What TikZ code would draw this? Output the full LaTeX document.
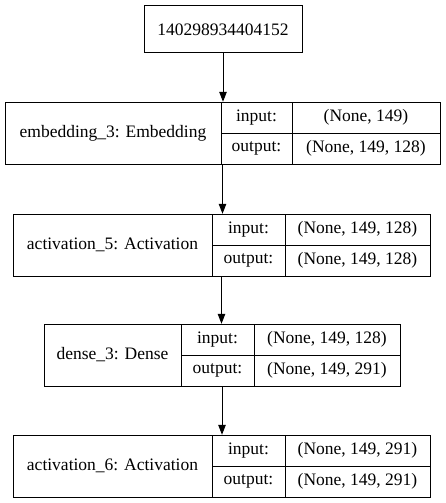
\documentclass[tikz,border=0pt]{standalone}
\usepackage{fontspec}
\setmainfont{Liberation Serif}
\usetikzlibrary{arrows.meta}
\tikzset{
  cell/.style={draw=black, line width=1pt, inner sep=0pt, font=\fontsize{17.5}{20}\selectfont},
  frame/.style={inner sep=0pt, draw=none},
  flow/.style={draw=black, line width=1pt, -{Triangle[length=10pt,width=7.5pt]}}
}
% #1 name, #2 x0, #3 d1, #4 d2, #5 x1, #6 ytop, #7 label, #8 input, #9 output
\newcommand{\kerasLayer}[9]{%
  \node[cell, minimum width={#3-#2}, minimum height=62] (#1-name) at ({(#2+#3)/2},{#6+31}) {#7};
  \node[cell, minimum width={#4-#3}, minimum height=31] (#1-inl) at ({(#3+#4)/2},{#6+15.5}) {input:};
  \node[cell, minimum width={#4-#3}, minimum height=31] (#1-outl) at ({(#3+#4)/2},{#6+46.5}) {output:};
  \node[cell, minimum width={#5-#4}, minimum height=31] (#1-inv) at ({(#4+#5)/2},{#6+15.5}) {#8};
  \node[cell, minimum width={#5-#4}, minimum height=31] (#1-outv) at ({(#4+#5)/2},{#6+46.5}) {#9};
  \node[frame, minimum width={#5-#2}, minimum height=62] (#1) at ({(#2+#5)/2},{#6+31}) {};
}
\begin{document}
\begin{tikzpicture}[x=1pt,y=-1pt]
\useasboundingbox (0,0) rectangle (445,503);
\node[cell, minimum width=158, minimum height=47] (input) at (223,29.5) {140298934404152};
\kerasLayer{emb}{5}{221}{292}{440}{102}{embedding\_3: Embedding}{(None, 149)}{(None, 149, 128)}
\kerasLayer{actA}{13}{212}{285}{430}{214}{activation\_5: Activation}{(None, 149, 128)}{(None, 149, 128)}
\kerasLayer{dense}{44}{181}{254}{400}{324}{dense\_3: Dense}{(None, 149, 128)}{(None, 149, 291)}
\kerasLayer{actB}{13}{212}{285}{430}{435}{activation\_6: Activation}{(None, 149, 291)}{(None, 149, 291)}
\draw[flow] (input.south) -- (input.south |- emb.north);
\draw[flow] (emb.south) -- (emb.south |- actA.north);
\draw[flow] (actA.south) -- (actA.south |- dense.north);
\draw[flow] (dense.south) -- (dense.south |- actB.north);
\end{tikzpicture}
\end{document}
